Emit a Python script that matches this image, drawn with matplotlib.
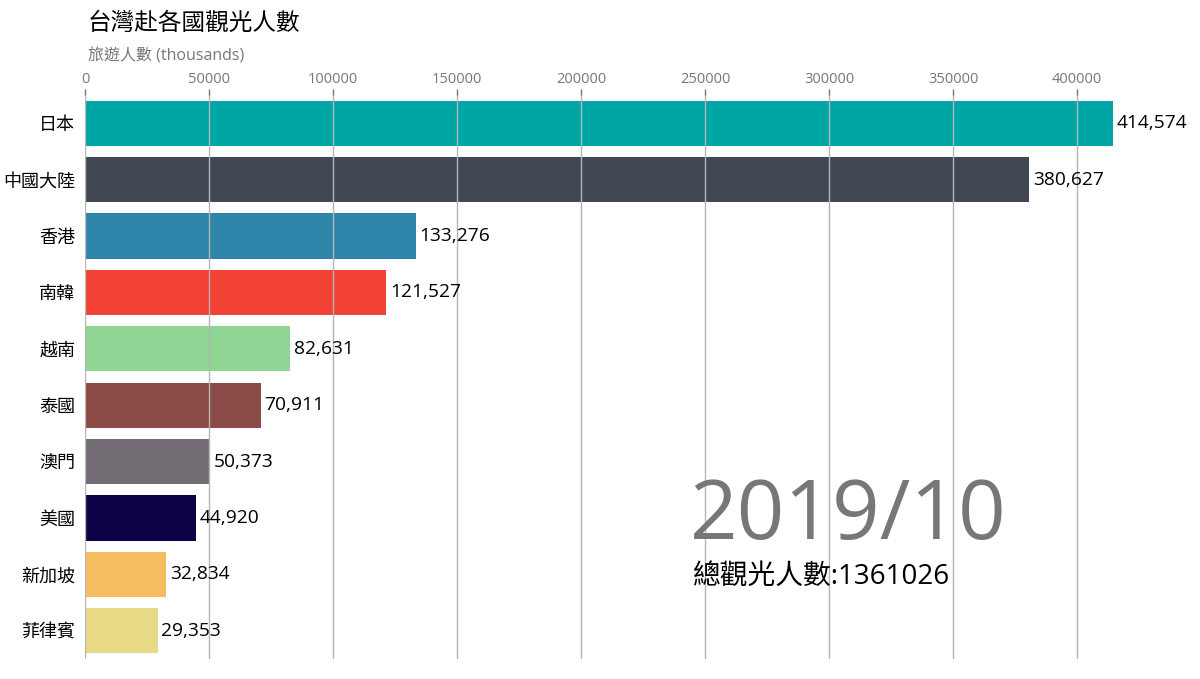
import matplotlib
matplotlib.use("Agg")
import matplotlib.pyplot as plt

plt.rcParams['font.family'] = ['Open Sans', 'Noto Sans CJK TC', 'DejaVu Sans']

countries = ["日本", "中國大陸", "香港", "南韓", "越南", "泰國", "澳門", "美國", "新加坡", "菲律賓"]
visitors = [414574, 380627, 133276, 121527, 82631, 70911, 50373, 44920, 32834, 29353]
colors = ["#00A6A6", "#414853", "#2E86AB", "#F24236", "#8FD694",
          "#8A4A45", "#756D76", "#0B0345", "#F6BD60", "#E8D985"]
period = "2019/10"
total = 1361026

fig = plt.figure(figsize=(12, 6.79), dpi=100)
ax = fig.add_axes([0.0708, 0.0295, 0.857, 0.8306])

ypos = list(range(len(countries)))
ax.barh(ypos, visitors, height=0.8, color=colors)
ax.set_ylim(len(countries) - 0.5, -0.5)
ax.set_xlim(0, max(visitors))

for y, v in zip(ypos, visitors):
    ax.text(v + 1500, y, f"{v:,}", va="center", ha="left", fontsize=13.8, color="black")

ax.set_yticks(ypos)
ax.set_yticklabels(countries, fontsize=13)
ax.tick_params(axis="y", length=0, pad=7)

ax.xaxis.set_ticks_position("top")
ax.set_xticks(range(0, 400001, 50000))
ax.set_xticklabels([str(t) for t in range(0, 400001, 50000)])
ax.tick_params(axis="x", colors="#777777", labelsize=10.5, length=4, width=1, pad=2)
ax.grid(axis="x", color="#b5b5b5", linewidth=1)
ax.set_axisbelow(False)
for s in ax.spines.values():
    s.set_visible(False)

fig.text(0.0733, 0.965, "台灣赴各國觀光人數", fontsize=17, va="center", ha="left", color="black")
fig.text(0.0733, 0.917, "旅遊人數 (thousands)", fontsize=11.5, va="center", ha="left", color="#777777")

ax.text(0.588, 0.212, period, transform=ax.transAxes, fontsize=60, color="#777777",
        ha="left", va="baseline")
ax.text(0.590, 0.146, f"總觀光人數:{total}", transform=ax.transAxes, fontsize=20,
        color="black", ha="left", va="center")

fig.savefig("out.png", dpi=100)
